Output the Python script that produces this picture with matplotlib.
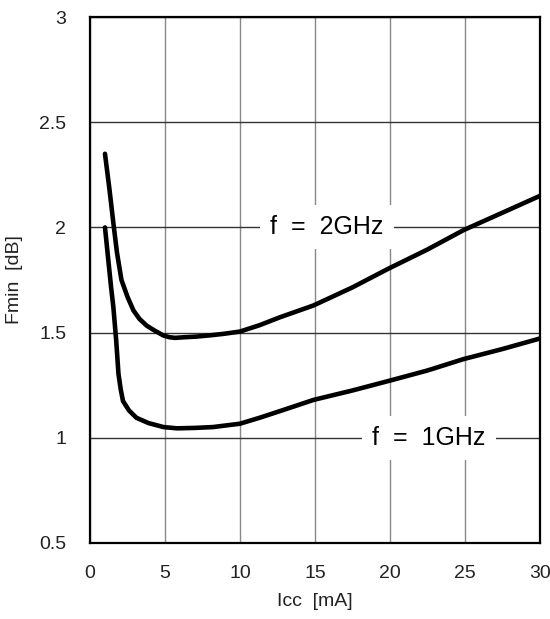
"""
Fmin vs Icc noise figure chart.
"""

import matplotlib.pyplot as plt

# Values
icc_2ghz = [1.0, 1.3, 1.56, 1.8, 2.1, 2.5, 2.9, 3.3, 3.78, 4.3, 4.9, 5.3, 5.67, 6.3,
            7.1, 8.0, 8.9, 10.0, 11.3, 12.67, 14.9, 17.5, 19.9, 22.5, 24.9, 27.5, 30.0]
fmin_2ghz = [2.35, 2.18, 2.02, 1.88, 1.75, 1.67, 1.605, 1.565, 1.533, 1.51, 1.486, 1.478, 1.475, 1.478,
             1.481, 1.487, 1.494, 1.505, 1.535, 1.573, 1.629, 1.715, 1.804, 1.895, 1.987, 2.07, 2.15]

icc_1ghz = [1.0, 1.2, 1.4, 1.56, 1.75, 1.9, 2.05, 2.2, 2.6, 3.1, 3.9, 4.9, 5.8, 7.0,
            8.2, 10.0, 11.3, 12.67, 14.9, 17.5, 19.9, 22.5, 24.9, 27.5, 30.0]
fmin_1ghz = [2.0, 1.86, 1.72, 1.62, 1.46, 1.303, 1.23, 1.175, 1.13, 1.095, 1.07, 1.051, 1.045, 1.047,
             1.051, 1.067, 1.095, 1.127, 1.18, 1.225, 1.27, 1.32, 1.374, 1.422, 1.472]

x_ticks = [0, 5, 10, 15, 20, 25, 30]
y_ticks = [0.5, 1, 1.5, 2, 2.5, 3]
y_tick_labels = ['0.5', '1', '1.5', '2', '2.5', '3']

plt.rcParams['font.family'] = ['Liberation Sans', 'DejaVu Sans']

fig = plt.figure(figsize=(5.5, 6.19), dpi=100)
ax = fig.add_axes([0.1636, 0.1228, 0.8182, 0.8497])

ax.plot(icc_2ghz, fmin_2ghz, color='black', linewidth=3.3, solid_capstyle='round', zorder=4)
ax.plot(icc_1ghz, fmin_1ghz, color='black', linewidth=3.3, solid_capstyle='round', zorder=4)

ax.set_xlim(0, 30)
ax.set_ylim(0.5, 3)
ax.set_xticks(x_ticks)
ax.set_yticks(y_ticks)
ax.set_yticklabels(y_tick_labels)
ax.tick_params(length=0, labelsize=14, colors='#222222')
ax.tick_params(axis='x', pad=16)
ax.tick_params(axis='y', pad=17)

ax.grid(True, axis='x', color='#888888', linewidth=1.0, zorder=1)
ax.grid(True, axis='y', color='#333333', linewidth=1.0, zorder=1)

for s in ax.spines.values():
    s.set_linewidth(1.6)
    s.set_color('black')
    s.set_zorder(5)

ax.set_xlabel('Icc  [mA]', fontsize=14, labelpad=8, color='#222222')
ax.set_ylabel('Fmin  [dB]', fontsize=14, labelpad=12, color='#222222')

box = dict(boxstyle='square,pad=0.4', facecolor='white', edgecolor='none')
ax.text(15.8, 2.0, 'f  =  2GHz', fontsize=18, ha='center', va='center', bbox=box, zorder=3)
ax.text(22.6, 1.0, 'f  =  1GHz', fontsize=18, ha='center', va='center', bbox=box, zorder=3)

fig.savefig('out.png', dpi=100)
